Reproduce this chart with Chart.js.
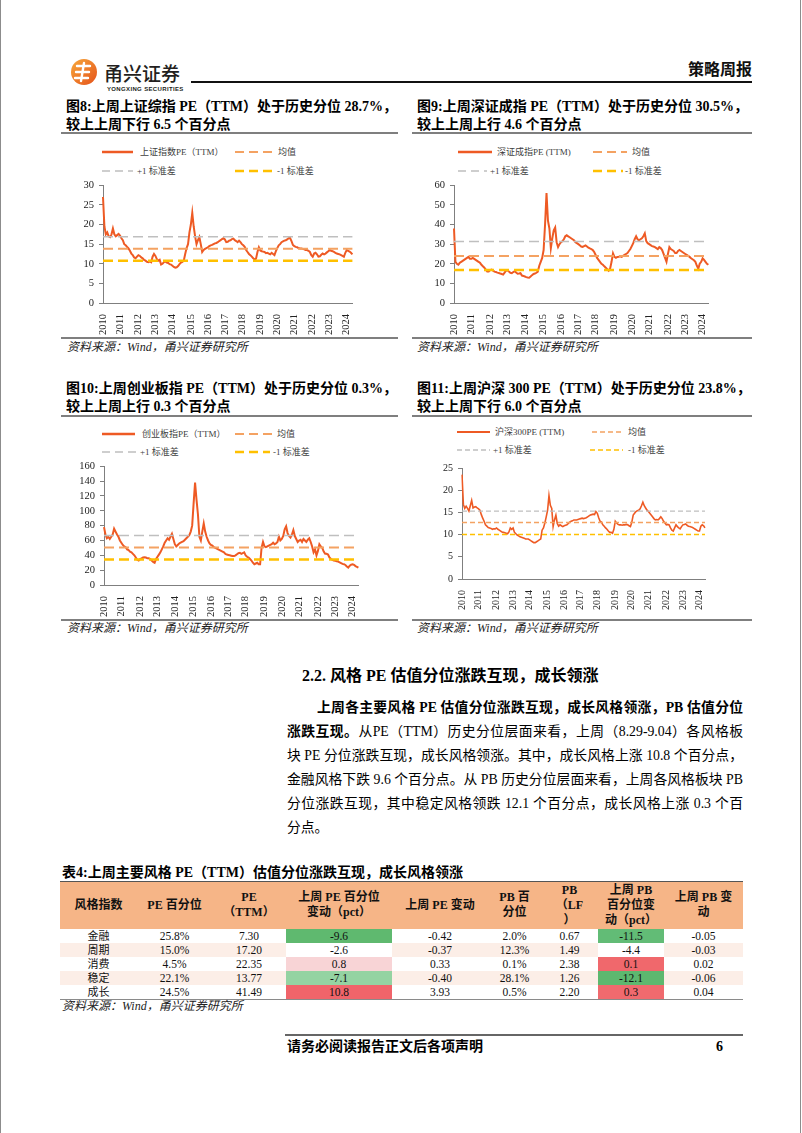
<!DOCTYPE html>
<html><head><meta charset="utf-8">
<script src="https://cdn.jsdelivr.net/npm/chart.js@4.4.1/dist/chart.umd.min.js"></script>
<style>
html,body{margin:0;padding:0;background:#fff;}
body{width:802px;height:1133px;position:relative;overflow:hidden;font-family:"Liberation Serif","Noto Sans CJK SC",serif;color:#000;}
.t{position:absolute;white-space:nowrap;}
.ttl{font-weight:bold;font-size:14px;line-height:18px;}
.src{font-style:italic;font-size:12px;line-height:14px;color:#222;}
.leg{font-size:9px;line-height:12px;color:#404040;}
.para{position:absolute;font-size:13.8px;line-height:18px;white-space:nowrap;text-align:justify;text-align-last:justify;}
canvas{position:absolute;}
table{position:absolute;border-collapse:collapse;table-layout:fixed;}
td{padding:0;text-align:center;vertical-align:middle;overflow:hidden;white-space:nowrap;}
thead td{font-weight:bold;font-size:12px;line-height:15px;background:#F6B587;color:#111;}
tbody td{font-size:11.5px;line-height:14px;height:14px;color:#111;}
</style>
</head><body>
<svg width="802" height="1133" style="position:absolute;left:0;top:0">
  <defs><linearGradient id="lg" x1="0" y1="0" x2="1" y2="1"><stop offset="0" stop-color="#F8A83A"/><stop offset="1" stop-color="#E4521B"/></linearGradient></defs>
  <line x1="0.5" y1="0" x2="0.5" y2="1133" stroke="#8c8c8c" stroke-width="1"/>
  <line x1="800.5" y1="0" x2="800.5" y2="1133" stroke="#8c8c8c" stroke-width="1"/>
  <circle cx="84" cy="72" r="13" fill="url(#lg)"/>
  <path d="M77 66 h13 M76 72 h13 M75 78 h13 M84 63 l-3 18" stroke="#fff" stroke-width="2.4" fill="none" stroke-linecap="round"/>
  <line x1="191" y1="82" x2="752" y2="82" stroke="#111" stroke-width="2.2"/>
  <line x1="61" y1="133" x2="398" y2="133" stroke="#7f7f7f" stroke-width="1.8"/>
  <line x1="412" y1="133" x2="752" y2="133" stroke="#7f7f7f" stroke-width="1.8"/>
  <line x1="61" y1="338" x2="398" y2="338" stroke="#7f7f7f" stroke-width="1.8"/>
  <line x1="412" y1="338" x2="752" y2="338" stroke="#7f7f7f" stroke-width="1.8"/>
  <line x1="61" y1="416" x2="398" y2="416" stroke="#7f7f7f" stroke-width="1.8"/>
  <line x1="412" y1="416" x2="752" y2="416" stroke="#7f7f7f" stroke-width="1.8"/>
  <line x1="61" y1="620" x2="398" y2="620" stroke="#7f7f7f" stroke-width="1.8"/>
  <line x1="412" y1="620" x2="752" y2="620" stroke="#7f7f7f" stroke-width="1.8"/>
  <line x1="285" y1="1035" x2="743" y2="1035" stroke="#333" stroke-width="1.6"/>
  <line x1="102" y1="152" x2="133" y2="152" stroke="#EE5A24" stroke-width="2.5"/>
  <line x1="235" y1="152" x2="273" y2="152" stroke="#F4A262" stroke-width="2" stroke-dasharray="9,5"/>
  <line x1="102" y1="171" x2="133" y2="171" stroke="#BFBFBF" stroke-width="1.5" stroke-dasharray="8,5"/>
  <line x1="235" y1="171" x2="273" y2="171" stroke="#FFC000" stroke-width="2.5" stroke-dasharray="9,5"/>
  <line x1="458" y1="152" x2="492" y2="152" stroke="#EE5A24" stroke-width="2.5"/>
  <line x1="593" y1="152" x2="627" y2="152" stroke="#F4A262" stroke-width="2" stroke-dasharray="9,5"/>
  <line x1="458" y1="171" x2="487" y2="171" stroke="#BFBFBF" stroke-width="1.5" stroke-dasharray="8,5"/>
  <line x1="593" y1="171" x2="623" y2="171" stroke="#FFC000" stroke-width="2.5" stroke-dasharray="9,5"/>
  <line x1="102" y1="434" x2="135" y2="434" stroke="#EE5A24" stroke-width="2.5"/>
  <line x1="235" y1="434" x2="272" y2="434" stroke="#F4A262" stroke-width="2" stroke-dasharray="9,5"/>
  <line x1="102" y1="452" x2="137" y2="452" stroke="#BFBFBF" stroke-width="1.5" stroke-dasharray="8,5"/>
  <line x1="235" y1="452" x2="270" y2="452" stroke="#FFC000" stroke-width="2.5" stroke-dasharray="9,5"/>
  <line x1="457" y1="432" x2="490" y2="432" stroke="#EE5A24" stroke-width="2"/>
  <line x1="592" y1="432" x2="623" y2="432" stroke="#F4A262" stroke-width="1.5" stroke-dasharray="5,3"/>
  <line x1="457" y1="450" x2="490" y2="450" stroke="#BFBFBF" stroke-width="1.3" stroke-dasharray="5,3"/>
  <line x1="590" y1="450" x2="623" y2="450" stroke="#FFC000" stroke-width="1.5" stroke-dasharray="5,3"/>
</svg>

<div class="t" style="left:104px;top:60px;font-family:'Noto Sans CJK SC';font-size:19px;line-height:26px;font-weight:500;color:#231F20">甬兴证券</div>
<div class="t" style="left:107px;top:85px;font-family:'Liberation Sans';font-size:6px;line-height:8px;font-weight:bold;letter-spacing:0.35px;color:#231F20">YONGXING SECURITIES</div>
<div class="t" style="right:50px;top:58px;font-family:'Noto Sans CJK SC';font-size:16px;line-height:20px;font-weight:bold;color:#111">策略周报</div>

<div class="t ttl" style="left:66px;top:98px">图8:上周上证综指 PE（TTM）处于历史分位 28.7%，<br>较上上周下行 6.5 个百分点</div>
<div class="t ttl" style="left:417px;top:98px">图9:上周深证成指 PE（TTM）处于历史分位 30.5%，<br>较上上周上行 4.6 个百分点</div>
<div class="t ttl" style="left:66px;top:380px">图10:上周创业板指 PE（TTM）处于历史分位 0.3%，<br>较上上周上行 0.3 个百分点</div>
<div class="t ttl" style="left:417px;top:380px">图11:上周沪深 300 PE（TTM）处于历史分位 23.8%，<br>较上上周下行 6.0 个百分点</div>

<div class="t leg" style="left:140px;top:146px">上证指数PE（TTM）</div>
<div class="t leg" style="left:278px;top:146px">均值</div>
<div class="t leg" style="left:137px;top:165px">+1 标准差</div>
<div class="t leg" style="left:277px;top:165px">-1 标准差</div>
<div class="t leg" style="left:497px;top:146px">深证成指PE (TTM)</div>
<div class="t leg" style="left:632px;top:146px">均值</div>
<div class="t leg" style="left:490px;top:165px">+1 标准差</div>
<div class="t leg" style="left:625px;top:165px">-1 标准差</div>
<div class="t leg" style="left:142px;top:428px">创业板指PE（TTM）</div>
<div class="t leg" style="left:277px;top:428px">均值</div>
<div class="t leg" style="left:140px;top:446px">+1 标准差</div>
<div class="t leg" style="left:273px;top:446px">-1 标准差</div>
<div class="t leg" style="left:495px;top:426px">沪深300PE (TTM)</div>
<div class="t leg" style="left:628px;top:426px">均值</div>
<div class="t leg" style="left:493px;top:444px">+1 标准差</div>
<div class="t leg" style="left:628px;top:444px">-1 标准差</div>

<canvas id="c1"></canvas>
<canvas id="c2"></canvas>
<canvas id="c3"></canvas>
<canvas id="c4"></canvas>

<div class="t src" style="left:67px;top:340px">资料来源：Wind，甬兴证券研究所</div>
<div class="t src" style="left:417px;top:340px">资料来源：Wind，甬兴证券研究所</div>
<div class="t src" style="left:67px;top:621px">资料来源：Wind，甬兴证券研究所</div>
<div class="t src" style="left:417px;top:621px">资料来源：Wind，甬兴证券研究所</div>

<div class="t" style="left:302px;top:666px;font-size:16px;line-height:20px;font-weight:bold">2.2. 风格 PE 估值分位涨跌互现，成长领涨</div>
<div class="para" style="left:317px;top:699px;width:426px;font-weight:bold">上周各主要风格 PE 估值分位涨跌互现，成长风格领涨，PB 估值分位</div>
<div class="para" style="left:287px;top:723px;width:456px"><b>涨跌互现。</b>从PE（TTM）历史分位层面来看，上周（8.29-9.04）各风格板</div>
<div class="para" style="left:287px;top:747px;width:456px">块 PE 分位涨跌互现，成长风格领涨。其中，成长风格上涨 10.8 个百分点，</div>
<div class="para" style="left:287px;top:771px;width:456px">金融风格下跌 9.6 个百分点。从 PB 历史分位层面来看，上周各风格板块 PB</div>
<div class="para" style="left:287px;top:795px;width:456px">分位涨跌互现，其中稳定风格领跌 12.1 个百分点，成长风格上涨 0.3 个百</div>
<div class="t" style="left:287px;top:819px;font-size:13.8px;line-height:18px">分点。</div>

<div class="t" style="left:62px;top:864px;font-size:14px;line-height:18px;font-weight:bold">表4:上周主要风格 PE（TTM）估值分位涨跌互现，成长风格领涨</div>
<table id="tbl" style="left:60px;top:881px;width:683px">
<colgroup><col style="width:77px"><col style="width:75px"><col style="width:74px"><col style="width:106px"><col style="width:96px"><col style="width:53px"><col style="width:57px"><col style="width:66px"><col style="width:79px"></colgroup>
<thead><tr style="height:47px">
<td>风格指数</td><td>PE 百分位</td><td>PE<br>（TTM）</td><td>上周 PE 百分位<br>变动（pct）</td><td>上周 PE 变动</td><td>PB 百<br>分位</td><td>PB<br>（LF<br>）</td><td>上周 PB<br>百分位变<br>动（pct）</td><td>上周 PB 变<br>动</td>
</tr></thead>
<tbody id="tb"></tbody>
</table>
<div class="t src" style="left:62px;top:999px">资料来源：Wind，甬兴证券研究所</div>

<div class="t" style="left:287px;top:1038px;font-size:14px;line-height:18px;font-weight:bold">请务必阅读报告正文后各项声明</div>
<div class="t" style="left:716px;top:1038px;font-size:14px;line-height:18px;font-weight:bold">6</div>

<script>
// ---------- categories ----------
const tickLabels = ['2010','2011','2012','2013','2014','2015','2016','2017','2018','2019','2020','2021','2022','2023','2024'];
const yearTickIdx = [0,12,25,37,49,62,74,86,98,111,123,135,148,160,172];
const months = [];
tickLabels.forEach(y => { const n = (y === '2024') ? 9 : 12; for (let m = 1; m <= n; m++) months.push(y + '-' + String(m).padStart(2, '0')); });

// ---------- series (monthly) ----------
const shPE = [
 [27,19.5,17.5,18,17,16.8,17.5,19,17.5,17,17.3,17.6],
 [17.2,16.5,16,15,14.7,14.3,13.9,13.3,12.6,12.2,11.6,11.4],
 [11.8,12.2,12,11.6,11.4,11,10.8,10.5,10.4,10.6,10.4,11.8],
 [12.5,12,11.2,10.8,11,9.8,10,10.4,10.6,10.3,10.2,9.9],
 [9.8,9.5,9.2,9.0,9.1,9.4,9.9,10.3,10.5,10.8,12.5,14],
 [15,18,20,23,19.5,17,15,16,16.8,15,13,13.5],
 [13.8,14,14.2,14.5,14.7,14.8,15,15.2,15.3,15.5,15.8,16],
 [16.3,16.5,16.2,15.5,15.6,15.9,16,16.3,16.4,16,15.8,15.5],
 [15.9,15.5,15,14.7,14.3,13.5,13,12.5,12.2,11.8,11.4,11.1],
 [11.3,13,14.2,13.4,13.2,13.1,13,12.7,12.8,12.6,12.4,12.8],
 [12.5,12.2,13.2,14,14.7,15,15.5,15.7,15.9,16,16.2,16.5],
 [16.6,15.8,14.8,14.5,14.3,14.2,14,13.9,13.9,13.8,13.7,13.5],
 [13.5,13.3,13,12.2,11.8,12.6,12.8,12.4,11.8,11.9,12.3,12.6],
 [12.4,12.6,12.9,13.2,13.5,13.3,13.2,13,12.8,12.6,12.5,12.4],
 [12.2,12,11.8,12.8,13.5,13.3,13.1,12.8,12.4]
].flat();
const shMean = 13.8, shPlus = 16.9, shMinus = 10.8;

const szPE = [
 [38,21,20,19.5,20.5,21,21.5,22,22.5,23,23.5,22.5],
 [22.5,23,22.5,22,21.5,21,20.5,19.5,18.7,18,17,16],
 [16,16.8,17,16.5,16,15.8,15.5,15.3,15,14.8,14.5,15.5],
 [16.5,16.7,16,15.4,15.2,15.8,16.2,15.5,14.9,15,15.2,14],
 [13.8,13.5,13.2,13,12.9,13.5,14.2,14.8,15,15.4,16,19],
 [21,23,27,40,56,42,38,28,33,37,38.5,31],
 [28.5,30,31,31.5,32.5,34,34.5,34,33.5,33,32.5,32],
 [31,30.5,30,29.4,28.8,28.6,29,29.4,28.8,28.2,27.8,27.5],
 [27,26,24.5,23,22,21,20,19.5,18.7,18,17.2,16.5],
 [17.5,21,25.3,23.5,23,23.5,23.6,23.8,23.5,24,24.5,25],
 [25.5,26.5,27.5,29,30.5,32.5,34,32.5,32,32.5,33,34],
 [35.5,31.5,30.5,30,29.5,29,28.8,28.5,28,27.5,28.5,28],
 [27,25,23,21,25,28.5,27.5,27,26.5,25.5,25.5,26.5],
 [27,26.5,26,25.5,25,24.5,24,23.5,22.8,22.3,21.8,21],
 [19,17.5,20,21,22.8,22,21,20,19.5]
].flat();
const szMean = 24.0, szPlus = 31.4, szMinus = 16.8;

const cyPE = [
 [78,68,63,65,62,65,68,76,72,68,65,60],
 [57,54,52,51,48,47,45,44,42,40,37,34],
 [33,35,36,37,37.5,37,36,36,35,33,31,30],
 [35,38,41,44,48,52,57,60,63,61,65,69],
 [62,55,52,54,56,57,58,59,61,63,65,67],
 [72,80,110,138,115,95,65,60,72,83,72,65],
 [60,56,54,53,51,50,49,48,47,46,45,44],
 [42,41,40.5,40,39.5,39,39,40,41.5,43,43.5,42],
 [43,44,40,38,37,35,33,30,28,29,30,28],
 [28,50,58,52,51,52,53,54,55,57,55,56],
 [58,65,60,62,66,75,79,70,66,64,68,74],
 [66,62,58,60,61,58,62,60,58,61,63,58],
 [52,44,48,40,46,55,52,50,45,42,42,41],
 [37,35,34,33,32.5,32,31.5,30.5,29.5,28.5,28,27],
 [25,23.5,26,27.5,28,27,25.5,24.5,23.5]
].flat();
const cyMean = 50.5, cyPlus = 66.6, cyMinus = 34.3;

const hsPE = [
 [23.5,16.8,15.9,16.4,15.9,15.3,16.5,17.7,16,16.2,16.3,16],
 [15.8,15.5,14.5,13.7,13,12.2,11.9,11.6,11.5,11.4,11.2,11.3],
 [11.3,11.5,11.2,11,10.8,10.6,10.5,10.4,10.3,10.2,10.6,11.5],
 [11.2,11.5,10.5,10.2,9.9,9.7,9.5,9.4,9.3,9.2,9,9],
 [9,8.8,8.6,8.4,8.2,8.2,8.4,8.6,8.8,9,11,11.5],
 [12.6,14,15.5,18.8,16.6,15.9,11.8,13.3,14.4,12.5,11.9,12.2],
 [12,11.8,12,12.1,12.2,12.5,12.8,13,13.1,13.3,13.3,13.3],
 [13.4,13.5,13.6,13.7,13.6,13.7,13.8,14,14.2,14.4,14.5,14.6],
 [14.5,15.2,14.8,13.8,13,12.8,12.2,11.9,11.5,11.2,10.8,10.5],
 [10.5,10.3,11.2,13,12.6,12.3,12.2,12.2,12.1,12.2,12.2,12.3],
 [12.2,12,11.8,12.8,14.4,14.8,15.2,15.4,15.5,15.8,16.5,17.3],
 [16.5,16,15.5,15.2,14.8,14.4,14,13.6,13.3,13.4,13.3,13.6],
 [14,13.6,13,12.6,12.2,12.3,12.2,11.5,11,10.8,11.5,12.2],
 [11.8,11.5,11.3,11.8,12.2,12.3,12.4,12.1,11.9,11.8,11.7,11.6],
 [11.4,11.2,11,10.8,10.8,11.9,12.2,12,11.5]
].flat();
const hsMean = 12.7, hsPlus = 15.3, hsMinus = 10.0;

// ---------- table data ----------
const styleNames = ['金融','周期','消费','稳定','成长'];
const pePct    = ['25.8%','15.0%','4.5%','22.1%','24.5%'];
const peTTM    = ['7.30','17.20','22.35','13.77','41.49'];
const pePctChg = ['-9.6','-2.6','0.8','-7.1','10.8'];
const peChg    = ['-0.42','-0.37','0.33','-0.40','3.93'];
const pbPct    = ['2.0%','12.3%','0.1%','28.1%','0.5%'];
const pbLF     = ['0.67','1.49','2.38','1.26','2.20'];
const pbPctChg = ['-11.5','-4.4','0.1','-12.1','0.3'];
const pbChg    = ['-0.05','-0.03','0.02','-0.06','0.04'];
const pePctChgColor = ['#5FB96F','#FFFFFF','#F8D4D6','#94D3A2','#F0646A'];
const pbPctChgColor = ['#62BC76','#FFFFFF','#F0686C','#5DB86F','#F06A6E'];
const rowColor = ['#FFFFFF','#FCEEE7','#FFFFFF','#FCEEE7','#FFFFFF'];

const tb = document.getElementById('tb');
styleNames.forEach((nm, i) => {
  const tr = document.createElement('tr');
  tr.style.background = rowColor[i];
  const cells = [nm, pePct[i], peTTM[i], pePctChg[i], peChg[i], pbPct[i], pbLF[i], pbPctChg[i], pbChg[i]];
  cells.forEach((v, j) => {
    const td = document.createElement('td');
    td.textContent = v;
    if (j === 0) td.style.fontSize = '11px';
    if (j === 3) td.style.background = pePctChgColor[i];
    if (j === 7) td.style.background = pbPctChgColor[i];
    tr.appendChild(td);
  });
  tb.appendChild(tr);
});
const tbl = document.getElementById('tbl');
tbl.style.borderTop = '1px solid #555';
tbl.style.borderBottom = '1.5px solid #8a8a8a';

// ---------- charts ----------
const AX = 42, XH = 32, PT = 8, PR = 8;
function makeChart(id, box, series, mean, plus, minus, yMax, yStep, st) {
  const cv = document.getElementById(id);
  const w = box.r - box.l + AX + PR, h = box.b - box.t + PT + XH;
  cv.width = w; cv.height = h;
  cv.style.width = w + 'px'; cv.style.height = h + 'px';
  cv.style.left = (box.l - AX) + 'px'; cv.style.top = (box.t - PT) + 'px';
  new Chart(cv, {
    type: 'line',
    data: { labels: months, datasets: [
      { data: months.map(() => minus), borderColor: '#FFC000', borderWidth: st.minusW, borderDash: st.dash, pointRadius: 0 },
      { data: months.map(() => mean), borderColor: '#F4A262', borderWidth: st.meanW, borderDash: st.dash, pointRadius: 0 },
      { data: months.map(() => plus), borderColor: '#BFBFBF', borderWidth: st.plusW, borderDash: st.dash, pointRadius: 0 },
      { data: series, borderColor: '#EE5A24', borderWidth: st.lineW, pointRadius: 0, tension: 0 }
    ]},
    options: {
      responsive: false, animation: false, devicePixelRatio: 1,
      layout: { autoPadding: false, padding: { left: 0, top: PT, right: PR, bottom: 0 } },
      plugins: { legend: { display: false }, tooltip: { enabled: false } },
      scales: {
        x: {
          type: 'category', offset: false,
          grid: { display: false },
          border: { display: true, color: '#7f7f7f', width: 1 },
          ticks: {
            autoSkip: false, minRotation: 90, maxRotation: 90, padding: 3,
            font: { family: 'Liberation Serif', size: st.xFont }, color: '#222',
            callback: (v, i) => { const k = yearTickIdx.indexOf(i); return k >= 0 ? tickLabels[k] : ''; }
          },
          afterFit: s => { s.height = XH; }
        },
        y: {
          min: 0, max: yMax,
          ticks: { stepSize: yStep, autoSkip: false, font: { family: 'Liberation Serif', size: st.yFont }, color: '#222', padding: 5 },
          grid: { display: true, drawOnChartArea: false, drawTicks: true, tickLength: 4, color: '#7f7f7f' },
          border: { display: true, color: '#7f7f7f', width: 1 },
          afterFit: s => { s.width = AX; }
        }
      }
    }
  });
}
const stdStyle = { dash: [10, 5], meanW: 2, plusW: 1.5, minusW: 2.5, lineW: 2, xFont: 10.5, yFont: 10.5 };
const thinStyle = { dash: [5, 3], meanW: 1.5, plusW: 1.3, minusW: 1.5, lineW: 1.6, xFont: 10, yFont: 10 };
makeChart('c1', { l: 103, r: 360, t: 182, b: 303 }, shPE, shMean, shPlus, shMinus, 30, 5, stdStyle);
makeChart('c2', { l: 454, r: 716, t: 182, b: 303 }, szPE, szMean, szPlus, szMinus, 60, 10, stdStyle);
makeChart('c3', { l: 104, r: 366, t: 463, b: 585 }, cyPE, cyMean, cyPlus, cyMinus, 160, 20, stdStyle);
makeChart('c4', { l: 462, r: 712, t: 465, b: 579 }, hsPE, hsMean, hsPlus, hsMinus, 25, 5, thinStyle);
</script>
</body></html>
